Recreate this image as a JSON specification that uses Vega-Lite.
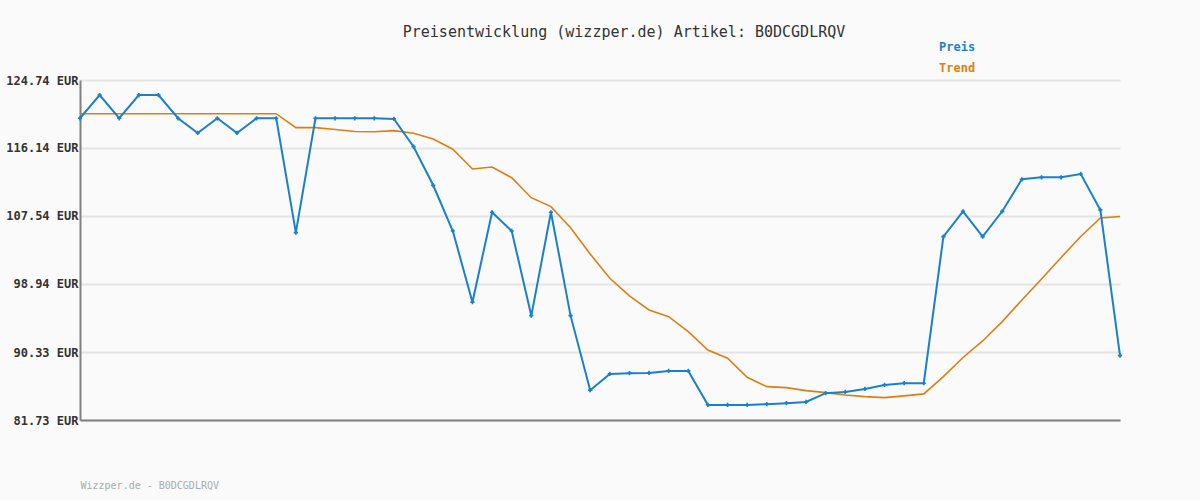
{
  "$schema": "https://vega.github.io/schema/vega-lite/v6.json",
  "width": 1040,
  "height": 340,
  "autosize": {"type": "none"},
  "padding": {"left": 80, "top": 80, "right": 80, "bottom": 80},
  "background": "#fafafa",
  "config": {"view": {"stroke": null}, "font": "DejaVu Sans Mono"},
  "title": {
    "text": "Preisentwicklung (wizzper.de) Artikel: B0DCGDLRQV",
    "font": "DejaVu Sans Mono",
    "fontSize": 15,
    "fontWeight": "normal",
    "color": "#333333",
    "anchor": "middle",
    "frame": "group",
    "dx": 24,
    "offset": 1
  },
  "datasets": {
    "d": [
      {"i":0,"series":"Preis","value":119.90},{"i":1,"series":"Preis","value":122.84},{"i":2,"series":"Preis","value":119.90},{"i":3,"series":"Preis","value":122.84},{"i":4,"series":"Preis","value":122.84},{"i":5,"series":"Preis","value":119.90},{"i":6,"series":"Preis","value":118.04},{"i":7,"series":"Preis","value":119.90},{"i":8,"series":"Preis","value":118.04},{"i":9,"series":"Preis","value":119.90},{"i":10,"series":"Preis","value":119.90},{"i":11,"series":"Preis","value":105.43},{"i":12,"series":"Preis","value":119.90},{"i":13,"series":"Preis","value":119.90},{"i":14,"series":"Preis","value":119.90},{"i":15,"series":"Preis","value":119.90},{"i":16,"series":"Preis","value":119.81},{"i":17,"series":"Preis","value":116.30},{"i":18,"series":"Preis","value":111.42},{"i":19,"series":"Preis","value":105.64},{"i":20,"series":"Preis","value":96.63},{"i":21,"series":"Preis","value":108.01},{"i":22,"series":"Preis","value":105.64},{"i":23,"series":"Preis","value":94.93},{"i":24,"series":"Preis","value":108.01},{"i":25,"series":"Preis","value":94.93},{"i":26,"series":"Preis","value":85.50},{"i":27,"series":"Preis","value":87.56},{"i":28,"series":"Preis","value":87.65},{"i":29,"series":"Preis","value":87.68},{"i":30,"series":"Preis","value":87.94},{"i":31,"series":"Preis","value":87.94},{"i":32,"series":"Preis","value":83.64},{"i":33,"series":"Preis","value":83.64},{"i":34,"series":"Preis","value":83.64},{"i":35,"series":"Preis","value":83.73},{"i":36,"series":"Preis","value":83.85},{"i":37,"series":"Preis","value":84.02},{"i":38,"series":"Preis","value":85.12},{"i":39,"series":"Preis","value":85.28},{"i":40,"series":"Preis","value":85.66},{"i":41,"series":"Preis","value":86.17},{"i":42,"series":"Preis","value":86.38},{"i":43,"series":"Preis","value":86.38},{"i":44,"series":"Preis","value":104.92},{"i":45,"series":"Preis","value":108.13},{"i":46,"series":"Preis","value":104.92},{"i":47,"series":"Preis","value":108.13},{"i":48,"series":"Preis","value":112.18},{"i":49,"series":"Preis","value":112.43},{"i":50,"series":"Preis","value":112.43},{"i":51,"series":"Preis","value":112.85},{"i":52,"series":"Preis","value":108.30},{"i":53,"series":"Preis","value":89.87},
      {"i":0,"series":"Trend","value":120.48},{"i":1,"series":"Trend","value":120.48},{"i":2,"series":"Trend","value":120.48},{"i":3,"series":"Trend","value":120.48},{"i":4,"series":"Trend","value":120.48},{"i":5,"series":"Trend","value":120.48},{"i":6,"series":"Trend","value":120.48},{"i":7,"series":"Trend","value":120.48},{"i":8,"series":"Trend","value":120.48},{"i":9,"series":"Trend","value":120.48},{"i":10,"series":"Trend","value":120.48},{"i":11,"series":"Trend","value":118.71},{"i":12,"series":"Trend","value":118.71},{"i":13,"series":"Trend","value":118.48},{"i":14,"series":"Trend","value":118.23},{"i":15,"series":"Trend","value":118.20},{"i":16,"series":"Trend","value":118.33},{"i":17,"series":"Trend","value":118.00},{"i":18,"series":"Trend","value":117.28},{"i":19,"series":"Trend","value":115.98},{"i":20,"series":"Trend","value":113.48},{"i":21,"series":"Trend","value":113.74},{"i":22,"series":"Trend","value":112.38},{"i":23,"series":"Trend","value":109.85},{"i":24,"series":"Trend","value":108.72},{"i":25,"series":"Trend","value":106.06},{"i":26,"series":"Trend","value":102.73},{"i":27,"series":"Trend","value":99.66},{"i":28,"series":"Trend","value":97.42},{"i":29,"series":"Trend","value":95.65},{"i":30,"series":"Trend","value":94.80},{"i":31,"series":"Trend","value":92.91},{"i":32,"series":"Trend","value":90.59},{"i":33,"series":"Trend","value":89.54},{"i":34,"series":"Trend","value":87.14},{"i":35,"series":"Trend","value":85.95},{"i":36,"series":"Trend","value":85.82},{"i":37,"series":"Trend","value":85.45},{"i":38,"series":"Trend","value":85.19},{"i":39,"series":"Trend","value":84.90},{"i":40,"series":"Trend","value":84.69},{"i":41,"series":"Trend","value":84.56},{"i":42,"series":"Trend","value":84.78},{"i":43,"series":"Trend","value":85.03},{"i":44,"series":"Trend","value":87.22},{"i":45,"series":"Trend","value":89.64},{"i":46,"series":"Trend","value":91.73},{"i":47,"series":"Trend","value":94.17},{"i":48,"series":"Trend","value":96.92},{"i":49,"series":"Trend","value":99.57},{"i":50,"series":"Trend","value":102.29},{"i":51,"series":"Trend","value":104.95},{"i":52,"series":"Trend","value":107.29},{"i":53,"series":"Trend","value":107.48}
    ]
  },
  "data": {"name": "d"},
  "encoding": {
    "x": {
      "field": "i",
      "type": "quantitative",
      "scale": {"domain": [0, 53], "nice": false, "zero": false},
      "axis": {
        "title": "Wizzper.de - B0DCGDLRQV",
        "titleFont": "DejaVu Sans Mono",
        "titleFontSize": 10,
        "titleFontWeight": "normal",
        "titleColor": "#aaaaaa",
        "titleAnchor": "start",
        "titleAlign": "left",
        "titlePadding": 60,
        "labels": false,
        "ticks": false,
        "grid": false,
        "domainColor": "#808080",
        "domainWidth": 2
      }
    },
    "y": {
      "field": "value",
      "type": "quantitative",
      "scale": {"domain": [81.73, 124.74], "nice": false, "zero": false},
      "axis": {
        "title": null,
        "values": [81.73, 90.33, 98.94, 107.54, 116.14, 124.74],
        "labelExpr": "format(datum.value, '.2f') + ' EUR'",
        "labelFont": "DejaVu Sans Mono",
        "labelFontSize": 12,
        "labelFontWeight": "bold",
        "labelColor": "#333333",
        "labelPadding": 2,
        "ticks": false,
        "grid": true,
        "gridColor": "#e4e4e4",
        "gridWidth": 2,
        "domainColor": "#808080",
        "domainWidth": 2
      }
    },
    "color": {
      "field": "series",
      "type": "nominal",
      "scale": {"domain": ["Preis", "Trend"], "range": ["#1a80cc", "#e07d10"]},
      "legend": {
        "orient": "none",
        "legendX": 847,
        "legendY": -39,
        "title": null,
        "symbolSize": 0,
        "symbolStrokeWidth": 0,
        "symbolOpacity": 0,
        "labelOffset": 0,
        "labelFont": "DejaVu Sans Mono",
        "labelFontSize": 12,
        "labelFontWeight": "bold",
        "rowPadding": 9,
        "encode": {"labels": {"update": {"fill": {"scale": "color", "field": "value"}}}}
      }
    }
  },
  "layer": [
    {"mark": {"type": "line", "strokeWidth": 1.6}, "transform": [{"filter": "datum.series === 'Trend'"}]},
    {"mark": {"type": "line", "strokeWidth": 2}, "transform": [{"filter": "datum.series === 'Preis'"}]},
    {"mark": {"type": "point", "shape": "cross", "size": 18, "filled": true, "opacity": 1}, "transform": [{"filter": "datum.series === 'Preis'"}]}
  ]
}
